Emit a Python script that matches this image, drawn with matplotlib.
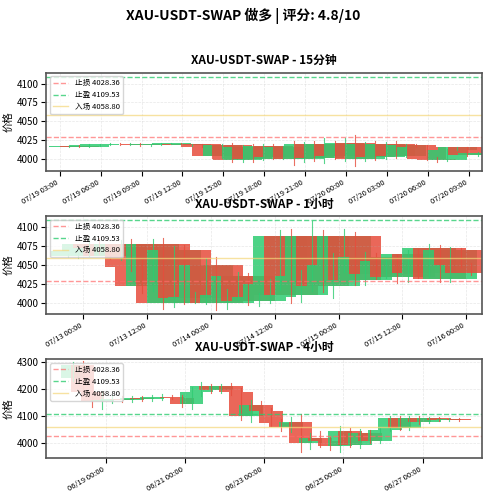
import matplotlib
matplotlib.use('Agg')
import matplotlib.pyplot as plt
import matplotlib.dates as mdates
from matplotlib.ticker import MultipleLocator
import pandas as pd

plt.rcParams['font.family'] = ['Noto Sans CJK SC', 'DejaVu Sans']
plt.rcParams['axes.unicode_minus'] = False

stop_loss = 4028.36
take_profit = 4109.53
entry = 4058.80

# 15m chart (closes, wick sizes) - first open given separately
c15 = [4017, 4016, 4018, 4019, 4020, 4019, 4020, 4018, 4019, 4020, 4020, 4018,
       4019, 4016, 4003, 4018, 3998, 4016, 4000, 4017, 4002, 4015, 3999, 4019,
       4001, 4020, 4003, 4021, 4000, 4019, 4002, 4020, 4004, 4018, 4016, 4000,
       3998, 4012, 4015, 4005, 4008]
w15 = [1, 1, 1, 1, 1, 1, 1, 1, 1, 1, 1, 1, 1, 1, 2, 2, 3, 2, 4, 2, 3, 2, 8, 3,
       4, 7, 3, 6, 10, 3, 4, 2, 3, 2, 1, 2, 2, 1, 1, 1, 1]
open15 = 4016

# 1h chart
c1h = [4062, 4068, 4078, 4072, 4062, 4078, 4048, 4022, 4078, 4000, 4070, 4006,
       4008, 4050, 4000, 4010, 4035, 4002, 4007, 4025, 4088, 4010, 4035, 4088,
       4022, 4050, 4088, 4030, 4060, 4038, 4055, 4034, 4064, 4040, 4072, 4032,
       4070, 4050, 4040]
w1h = [2, 3, 6, 8, 4, 5, 6, 9, 6, 8, 5, 7, 6, 9, 10, 8, 6, 5, 6, 7, 8, 10, 9,
       20, 8, 16, 9, 6, 7, 6, 5, 8, 6, 7, 6, 5, 4, 3, 3]
open1h = 4062

# 4h chart
c4h = [4290, 4190, 4155, 4160, 4165, 4160, 4168, 4163, 4170, 4172, 4168, 4145,
       4190, 4210, 4195, 4212, 4190, 4100, 4140, 4120, 4075, 4060, 4080, 4000,
       4020, 4010, 3990, 4045, 3995, 4040, 4010, 4050, 4095, 4055, 4095, 4078,
       4093, 4085, 4090, 4085]
w4h = [10, 15, 20, 30, 12, 8, 6, 6, 8, 10, 6, 12, 18, 15, 10, 8, 12, 15, 20,
       15, 12, 15, 18, 30, 20, 25, 15, 20, 10, 12, 10, 8, 6, 6, 5, 5, 4, 3, 3, 3]
open4h = 4240


def candles(ax, start, step, opens0, closes, wicks, width, title, locator):
    times = pd.date_range(start, periods=len(closes), freq=step)
    x = mdates.date2num(times.to_pydatetime())
    prev = opens0
    for xi, c, w in zip(x, closes, wicks):
        o = prev
        col = '#2ecc71' if c >= o else '#e74c3c'
        lo, hi = min(o, c), max(o, c)
        ax.plot([xi, xi], [lo - w, hi + w], color=col, lw=0.8, alpha=0.8)
        ax.bar(xi, hi - lo if hi > lo else 0.5, bottom=lo, width=width,
               color=col, alpha=0.85, edgecolor='none')
        prev = c
    ax.axhline(stop_loss, color='#ff6b6b', ls='--', lw=1, alpha=0.7, label=f'止损 {stop_loss:.2f}')
    ax.axhline(take_profit, color='#2ecc71', ls='--', lw=1, alpha=0.8, label=f'止盈 {take_profit:.2f}')
    ax.axhline(entry, color='#f5d77a', ls='-', lw=1, alpha=0.7, label=f'入场 {entry:.2f}')
    ax.set_title(title, fontsize=8.5, fontweight='bold')
    ax.set_ylabel('价格', fontsize=7.5, labelpad=2)
    ax.grid(True, alpha=0.3, ls='--', lw=0.5)
    ax.legend(loc='upper left', fontsize=5.5, framealpha=0.8)
    ax.xaxis.set_major_locator(locator)
    ax.xaxis.set_major_formatter(mdates.DateFormatter('%m/%d %H:%M'))
    ax.tick_params(labelsize=7, pad=2)
    ax.tick_params(axis='x', labelsize=5.5)
    plt.setp(ax.get_xticklabels(), rotation=30, ha='right')
    for s in ax.spines.values():
        s.set_color('#555555')
        s.set_linewidth(1.2)


fig, axes = plt.subplots(3, 1, figsize=(4.87, 5.0), dpi=100)
fig.suptitle('XAU-USDT-SWAP 做多 | 评分: 4.8/10', fontsize=10, fontweight='bold', y=0.985)

candles(axes[0], '2025-07-19 03:40', '45min', open15, c15, w15, 0.12,
        'XAU-USDT-SWAP - 15分钟', mdates.HourLocator(byhour=range(0, 24, 3)))
axes[0].set_ylim(3984, 4115)
axes[0].yaxis.set_major_locator(MultipleLocator(25))
axes[0].set_xlim(mdates.date2num(pd.Timestamp('2025-07-19 02:00')),
                 mdates.date2num(pd.Timestamp('2025-07-20 10:00')))

candles(axes[1], '2025-07-12 21:00', '2h', open1h, c1h, w1h, 0.42,
        'XAU-USDT-SWAP - 1小时', mdates.HourLocator(byhour=[0, 12]))
axes[1].set_ylim(3985, 4115)
axes[1].yaxis.set_major_locator(MultipleLocator(25))
axes[1].set_xlim(mdates.date2num(pd.Timestamp('2025-07-12 17:00')),
                 mdates.date2num(pd.Timestamp('2025-07-16 03:00')))

candles(axes[2], '2025-06-18 04:00', '6h', open4h, c4h, w4h, 0.6,
        'XAU-USDT-SWAP - 4小时', mdates.DayLocator(bymonthday=[19, 21, 23, 25, 27]))
axes[2].set_ylim(3948, 4310)
axes[2].set_xlim(mdates.date2num(pd.Timestamp('2025-06-17 12:00')),
                 mdates.date2num(pd.Timestamp('2025-06-28 12:00')))

fig.subplots_adjust(left=0.095, right=0.99, top=0.855, bottom=0.085, hspace=0.46)
fig.savefig('out.png', dpi=100)
